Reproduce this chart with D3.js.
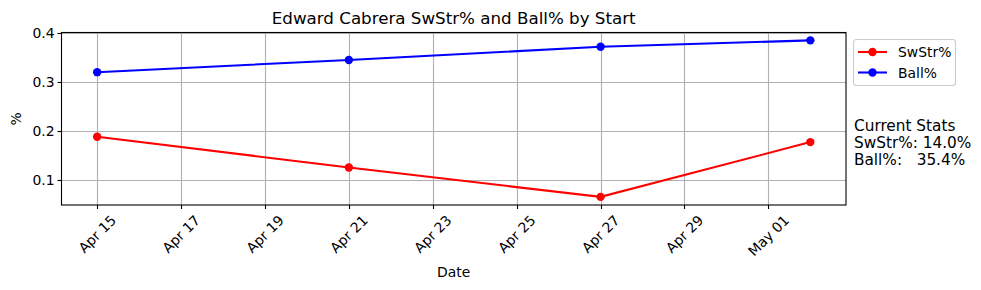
<!DOCTYPE html>
<html>
<head>
<meta charset="utf-8">
<script src="https://cdn.jsdelivr.net/npm/d3@7"></script>
<style>
  body { margin: 0; background: #fff; }
  svg { font-family: "DejaVu Sans", sans-serif; }
</style>
</head>
<body>
<svg id="chart" width="981" height="290"></svg>
<script>
// data
var dates = ['2024-04-15', '2024-04-21', '2024-04-27', '2024-05-02'];
var swstr = [0.188, 0.125, 0.065, 0.177];
var ball = [0.320, 0.345, 0.372, 0.385];
var yTicks = [0.1, 0.2, 0.3, 0.4];
var statLines = ['Current Stats', 'SwStr%: 14.0%', 'Ball%:   35.4%'];
var seriesNames = ['SwStr%', 'Ball%'];
var seriesColors = ['red', 'blue'];

var parse = d3.utcParse('%Y-%m-%d');
var x = d3.scaleUtc()
	.domain([new Date(parse(dates[0]).getTime() - 0.85 * 864e5), new Date(parse(dates[3]).getTime() + 0.85 * 864e5)])
	.range([61.5, 846]);
var y = d3.scaleLinear().domain([0.0484, 0.4011]).range([205, 32.5]);

var svg = d3.select('#chart');
var tickFont = 13.9;

// grid
var xTicks = d3.utcDay.every(2).range(parse('2024-04-15'), parse('2024-05-03'));
svg.append('g').selectAll('line').data(xTicks).join('line')
	.attr('x1', d => Math.round(x(d)) + 0.5).attr('x2', d => Math.round(x(d)) + 0.5)
	.attr('y1', 32.5).attr('y2', 205)
	.attr('stroke', '#b0b0b0').attr('stroke-width', 1.1);
svg.append('g').selectAll('line').data(yTicks).join('line')
	.attr('x1', 61.5).attr('x2', 846)
	.attr('y1', d => Math.round(y(d)) + 0.5).attr('y2', d => Math.round(y(d)) + 0.5)
	.attr('stroke', '#b0b0b0').attr('stroke-width', 1.1);

// series
var series = [swstr, ball];
series.forEach(function (vals, i) {
	var pts = vals.map((v, j) => [x(parse(dates[j])), y(v)]);
	svg.append('path')
		.attr('d', d3.line()(pts))
		.attr('fill', 'none')
		.attr('stroke', seriesColors[i])
		.attr('stroke-width', 2.08);
	svg.append('g').selectAll('circle').data(pts).join('circle')
		.attr('cx', d => d[0]).attr('cy', d => d[1]).attr('r', 4.2)
		.attr('fill', seriesColors[i]);
});

// spines
svg.append('rect')
	.attr('x', 61.5).attr('y', 32.5).attr('width', 846 - 61.5).attr('height', 205 - 32.5)
	.attr('fill', 'none').attr('stroke', '#000').attr('stroke-width', 1.1);

// x ticks
var xt = svg.append('g');
xt.selectAll('line').data(xTicks).join('line')
	.attr('x1', d => Math.round(x(d)) + 0.5).attr('x2', d => Math.round(x(d)) + 0.5)
	.attr('y1', 205).attr('y2', 209)
	.attr('stroke', '#000').attr('stroke-width', 1.1);
var fmt = d3.utcFormat('%b %d');
xt.selectAll('text').data(xTicks).join('text')
	.attr('font-size', tickFont)
	.attr('text-anchor', 'middle')
	.attr('dominant-baseline', 'central')
	.text(d => fmt(d))
	.each(function (d) {
		var L = this.getComputedTextLength();
		var h = 13;
		var cy = 213 + (L + h) / (2 * Math.SQRT2);
		d3.select(this).attr('transform', 'translate(' + x(d) + ',' + cy + ') rotate(-45)');
	});

// y ticks
var yt = svg.append('g');
yt.selectAll('line').data(yTicks).join('line')
	.attr('x1', 57.5).attr('x2', 61.5)
	.attr('y1', d => Math.round(y(d)) + 0.5).attr('y2', d => Math.round(y(d)) + 0.5)
	.attr('stroke', '#000').attr('stroke-width', 1.1);
yt.selectAll('text').data(yTicks).join('text')
	.attr('font-size', tickFont)
	.attr('text-anchor', 'end')
	.attr('dominant-baseline', 'central')
	.attr('x', 54.5).attr('y', d => y(d))
	.text(d => d.toFixed(1));

// labels
svg.append('text').attr('x', 453.7).attr('y', 24).attr('text-anchor', 'middle')
	.attr('font-size', 16.7).text('Edward Cabrera SwStr% and Ball% by Start');
svg.append('text').attr('x', 453.7).attr('y', 277).attr('text-anchor', 'middle')
	.attr('font-size', tickFont).text('Date');
svg.append('text').attr('transform', 'translate(21,119) rotate(-90)').attr('text-anchor', 'middle')
	.attr('font-size', tickFont).text('%');

// legend
var lg = svg.append('g');
lg.append('rect').attr('x', 853.5).attr('y', 39.5).attr('width', 102).attr('height', 46)
	.attr('rx', 3).attr('fill', '#fff').attr('fill-opacity', 0.8)
	.attr('stroke', '#cccccc').attr('stroke-width', 1.1);
seriesNames.forEach(function (name, i) {
	var ly = 52 + i * 20.5;
	lg.append('line').attr('x1', 858).attr('x2', 887).attr('y1', ly).attr('y2', ly)
		.attr('stroke', seriesColors[i]).attr('stroke-width', 2.08);
	lg.append('circle').attr('cx', 872.5).attr('cy', ly).attr('r', 4.2).attr('fill', seriesColors[i]);
	lg.append('text').attr('x', 898).attr('y', ly).attr('dominant-baseline', 'central')
		.attr('font-size', tickFont).text(name);
});

// current stats text
svg.append('text').attr('x', 854).attr('font-size', 15.3)
	.style('white-space', 'pre')
	.selectAll('tspan').data(statLines).join('tspan')
	.attr('x', 854).attr('y', (d, i) => 131 + i * 16.8)
	.text(d => d);
</script>
</body>
</html>
